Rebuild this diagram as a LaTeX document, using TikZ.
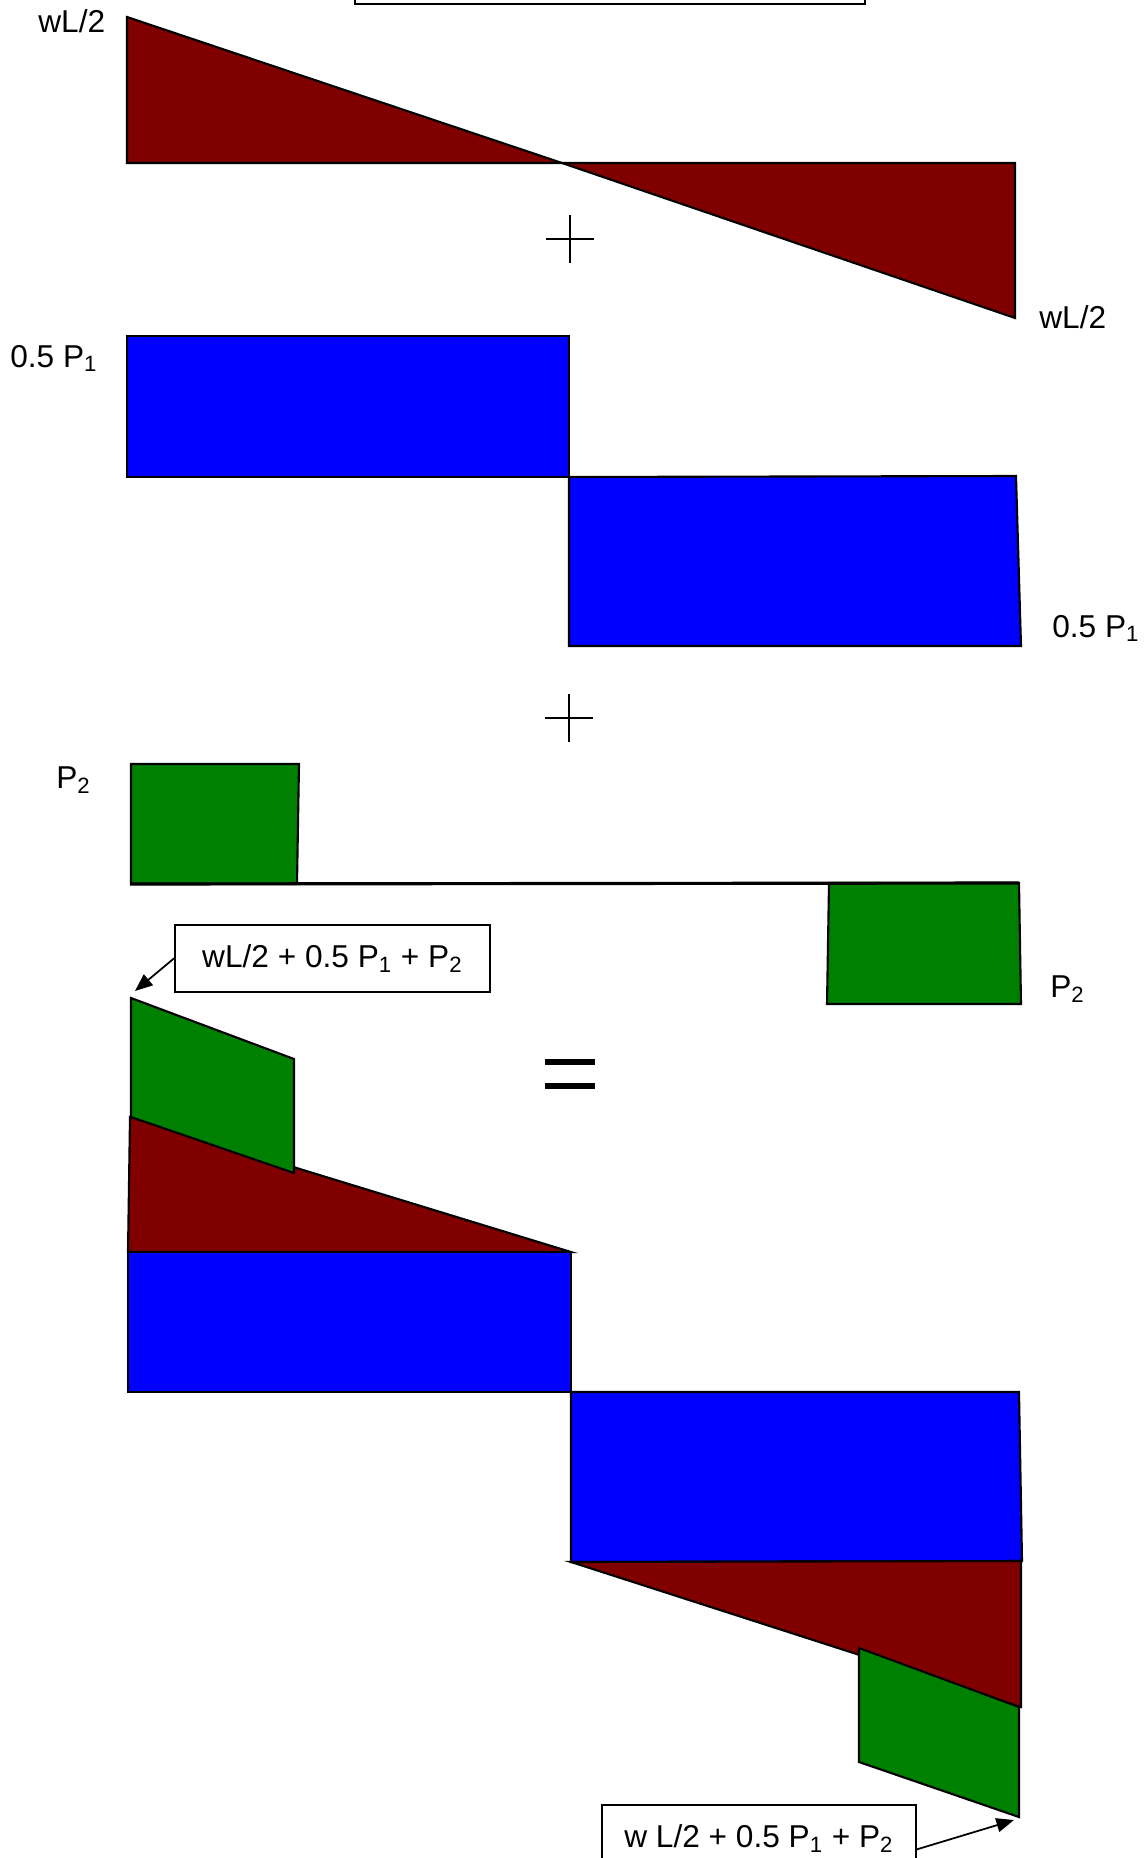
\documentclass[tikz,border=0pt]{standalone}
\usepackage{fontspec}
\setmainfont{Liberation Sans}
\usetikzlibrary{arrows.meta,calc}
\definecolor{sfred}{HTML}{800000}
\definecolor{sfblue}{HTML}{0000FF}
\definecolor{sfgreen}{HTML}{008000}
\newcommand{\Pone}{P\textsubscript{1}}
\newcommand{\Ptwo}{P\textsubscript{2}}
\begin{document}
\begin{tikzpicture}[x=0.02cm,y=-0.02cm,>={Triangle[length=10pt,width=8pt]},font=\fontsize{18}{21}\selectfont,
 part/.style={draw=black,line width=1.2pt,line join=miter},
 redpart/.style={part,fill=sfred}, bluepart/.style={part,fill=sfblue}, greenpart/.style={part,fill=sfgreen},
 lbl/.style={anchor=base west,inner sep=0pt},
 callout/.style={draw,line width=1pt,fill=white,anchor=north west,inner sep=0pt,minimum width=6.3cm,minimum height=1.34cm},
 pointer/.style={->,line width=1pt}]
 \clip (0,0) rectangle (1148,1858);
 \fill[white] (0,0) rectangle (1148,1858);
 \draw[line width=1pt] (355,-40) rectangle (865,4);
 % uniform load
 \path[redpart] (127,17) -- (127,163) -- (562,163) -- cycle;
 \path[redpart] (562,163) -- (1015,163) -- (1015,318) -- cycle;
 \node[lbl] (wtop) at (38,33) {wL/2}; \node[lbl] (wbot) at (1039,329) {wL/2};
 \draw[line width=0.8pt] (546,239) -- (594,239) (570,215) -- (570,263);
 % load P1
 \path[bluepart] (127,336) rectangle (569,477);
 \path[bluepart] (569,477) -- (1016,476) -- (1021,646) -- (569,646) -- cycle;
 \node[lbl] (pa) at (10,367) {0.5 \Pone}; \node[lbl] (pb) at (1052,637) {0.5 \Pone};
 \draw[line width=0.8pt] (545,718) -- (593,718) (569,694) -- (569,742);
 % loads P2
 \path[greenpart] (131,764) -- (299,764) -- (297,884) -- (131,884) -- cycle;
 \path[greenpart] (829,883) -- (1019,883) -- (1021,1004) -- (827,1004) -- cycle;
 \draw[line width=1.8pt] (130,884) -- (1019,883);
 \node[lbl] (qa) at (56,788) {\Ptwo}; \node[lbl] (qb) at (1050,997) {\Ptwo};
 \draw[line width=3.4pt] (545,1062) -- (595,1062) (545,1086) -- (595,1086);
 % total
 \path[redpart] (130,1117) -- (571,1252) -- (128,1252) -- cycle;
 \path[bluepart] (128,1252) rectangle (571,1392);
 \path[greenpart] (131,998) -- (294,1059) -- (294,1173) -- (131,1117) -- cycle;
 \path[bluepart] (571,1392) -- (1019,1392) -- (1022,1561) -- (571,1562) -- cycle;
 \path[redpart] (571,1562) -- (1021,1561) -- (1021,1707) -- cycle;
 \path[greenpart] (859,1648) -- (1019,1707) -- (1019,1817) -- (859,1762) -- cycle;
 \coordinate (tipL) at (135,991); \coordinate (tipR) at (1014,1820);
 \node[callout] (sumtop) at (174,924) {wL/2 + 0.5 \Pone{} + \Ptwo};
 \node[callout,minimum width=6.28cm] (sumbot) at (601,1804) {w L/2 + 0.5 \Pone{} + \Ptwo};
 \draw[pointer] (sumtop.west) -- (tipL);
 \draw[pointer] (sumbot.-4) -- (tipR);
\end{tikzpicture}
\end{document}
